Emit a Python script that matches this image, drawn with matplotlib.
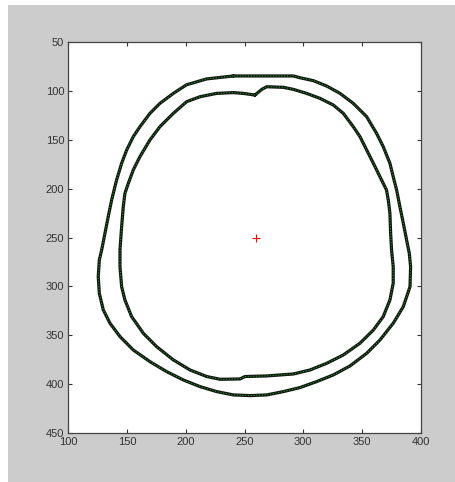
import matplotlib
matplotlib.use("Agg")
import matplotlib.pyplot as plt
from matplotlib.patches import Rectangle

outer_x = [240.5, 217.8, 200.7, 189.4, 178.0, 169.5, 161.0, 155.3, 149.7, 145.4, 141.1, 139.7,
           136.9, 134.0, 131.2, 128.4, 126.4, 125.5, 126.4, 129.8, 135.5, 144.0, 155.3, 169.5,
           183.7, 197.9, 212.1, 226.3, 240.5, 254.7, 268.9, 283.1, 297.2, 311.4, 325.6, 339.8,
           354.0, 365.3, 376.6, 385.2, 390.9, 391.4, 390.3, 388.0, 385.2, 382.3, 379.5, 376.6,
           373.8, 368.1, 362.4, 354.0, 342.6, 331.3, 320.0, 308.6, 297.2, 291.6, 240.5]
outer_y = [85.0, 88.0, 94.0, 102.8, 113.0, 123.2, 136.8, 147.0, 160.6, 174.2, 191.3, 198.0,
           211.7, 228.7, 245.7, 262.8, 273.0, 290.0, 307.0, 324.0, 337.6, 351.2, 364.9, 376.8,
           387.0, 395.5, 402.3, 407.4, 410.8, 411.5, 410.8, 407.4, 403.3, 397.2, 390.4, 381.2,
           368.3, 354.7, 337.6, 320.6, 300.2, 279.8, 266.2, 252.5, 235.5, 218.5, 201.5, 187.9,
           174.2, 157.2, 143.6, 126.6, 113.0, 102.8, 95.3, 89.8, 86.8, 85.0, 85.0]

inner_x = [258.9, 249.0, 240.5, 226.3, 212.1, 200.7, 189.4, 178.0, 169.5, 161.0, 155.3, 151.1,
           148.2, 146.8, 145.4, 144.0, 144.0, 145.4, 148.2, 153.9, 163.9, 175.2, 189.4, 203.6,
           217.8, 229.1, 246.2, 250.4, 268.9, 291.6, 305.8, 320.0, 334.1, 348.3, 359.7, 368.1,
           373.8, 376.6, 376.6, 375.2, 374.4, 373.8, 372.4, 370.9, 365.3, 359.7, 354.0, 348.3,
           342.6, 334.1, 325.6, 314.3, 302.9, 291.6, 283.1, 268.9, 264.7, 258.9]
inner_y = [104.5, 102.8, 102.0, 102.8, 106.2, 111.3, 123.2, 136.8, 150.4, 167.4, 181.0, 194.7,
           204.9, 218.5, 238.9, 262.8, 279.8, 300.2, 313.8, 330.8, 347.9, 361.5, 375.0, 385.3,
           392.0, 394.8, 394.5, 392.0, 391.4, 389.4, 385.3, 378.5, 370.0, 358.0, 344.5, 330.8,
           313.8, 296.8, 279.8, 262.8, 245.7, 225.3, 211.7, 201.5, 187.9, 174.2, 160.6, 147.0,
           136.8, 123.2, 114.7, 107.9, 102.8, 98.7, 96.6, 96.0, 98.7, 104.5]

center_x = [260]
center_y = [250]

x_ticks = [100, 150, 200, 250, 300, 350, 400]
y_ticks = [50, 100, 150, 200, 250, 300, 350, 400, 450]

W, H = 456, 482
fig = plt.figure(figsize=(W / 100, H / 100), dpi=100, facecolor="white")
fig.patches.append(Rectangle((8 / W, 0), 1 - 8 / W, 1 - 5 / H, transform=fig.transFigure,
                             facecolor="#cccccc", edgecolor="none", zorder=-10))

ax = fig.add_axes([68.3 / W, 1 - 433.3 / H, 352.4 / W, 391.6 / H])
ax.set_facecolor("white")

for xs, ys in [(outer_x, outer_y), (inner_x, inner_y)]:
    ax.plot(xs, ys, color="#111411", lw=2.3, solid_joinstyle="round", solid_capstyle="round")
    ax.plot(xs, ys, color="#1f9a1f", lw=0.8, ls=(0, (1, 1.5)))

ax.plot(center_x, center_y, marker="+", color="red", ms=6, mew=0.8, ls="none")

ax.set_xlim(100, 400)
ax.set_ylim(450, 50)
ax.set_xticks(x_ticks)
ax.set_yticks(y_ticks)
ax.tick_params(direction="in", length=3, width=0.8, top=True, right=True,
               labelsize=8, colors="#333333", pad=3)
for lab in ax.get_xticklabels() + ax.get_yticklabels():
    lab.set_family(["Liberation Sans", "DejaVu Sans"])
for sp in ax.spines.values():
    sp.set_color("#444444")
    sp.set_linewidth(0.9)

fig.savefig("out.png", dpi=100, facecolor=fig.get_facecolor())
